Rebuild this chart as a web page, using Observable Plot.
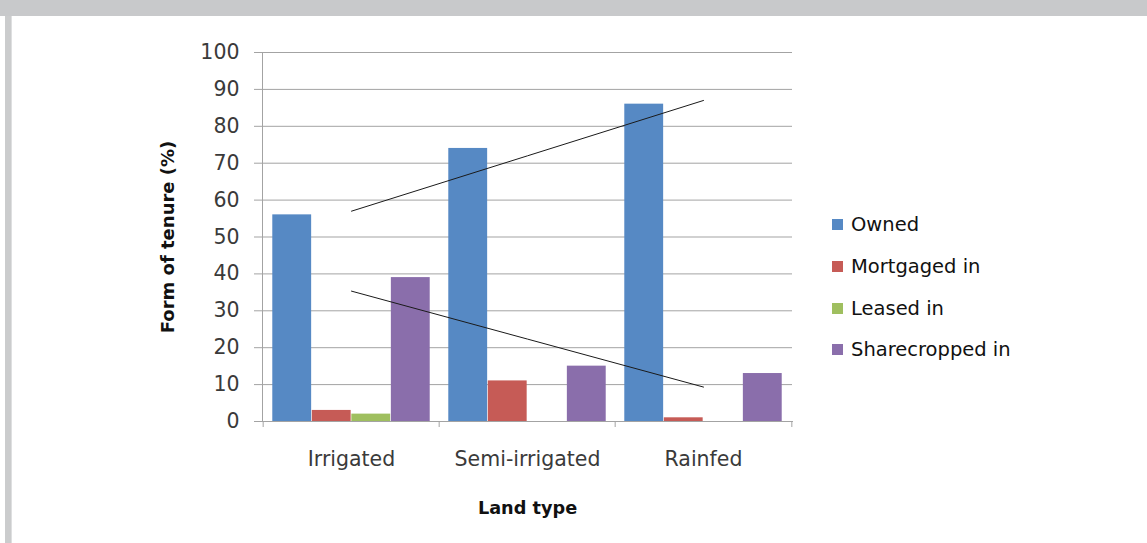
<!DOCTYPE html>
<html>
<head>
<meta charset="utf-8">
<script src="https://cdn.jsdelivr.net/npm/d3@7"></script>
<script src="https://cdn.jsdelivr.net/npm/@observablehq/plot@0.6"></script>
<style>
  html, body { margin: 0; padding: 0; background: #fff; }
  #page { position: relative; width: 1147px; height: 543px; overflow: hidden; background: #fff; font-family: "DejaVu Sans", sans-serif; }
  #topband { position: absolute; left: 0; top: 0; width: 1147px; height: 16px; background: #c8c9cb; }
  #leftband { position: absolute; left: 5px; top: 16px; width: 6px; height: 527px; background: #cbcccd; border-right: 1px solid #dedfe0; }
  #chart { position: absolute; left: 0; top: 16px; }
  #legend { position: absolute; left: 832px; top: 204px; color: #111; font-size: 19.5px; }
  .item { display: flex; align-items: center; height: 41.7px; }
  .swatch { width: 11px; height: 11px; margin-right: 8px; }
</style>
</head>
<body>
<div id="page">
  <div id="topband"></div>
  <div id="leftband"></div>
  <div id="chart"></div>
  <div id="legend"></div>
</div>
<script>
// Share of holdings by form of tenure, for each land type
const landTypes = ["Irrigated", "Semi-irrigated", "Rainfed"];
const seriesNames = ["Owned", "Mortgaged in", "Leased in", "Sharecropped in"];
const owned = [56, 74, 86];
const mortgagedIn = [3, 11, 1];
const leasedIn = [2, 0, 0];
const sharecroppedIn = [39, 15, 13];
const yTicks = [0, 10, 20, 30, 40, 50, 60, 70, 80, 90, 100];
const colors = ["#5689c4", "#c65b56", "#9fbf5f", "#8a6eab"];

const seriesValues = [owned, mortgagedIn, leasedIn, sharecroppedIn];
const rows = seriesNames.flatMap((s, i) =>
  landTypes.map((t, j) => ({landType: t, series: s, value: seriesValues[i][j]}))
);

// Least-squares linear trend over the land-type order
function linearTrend(values) {
  const n = values.length;
  const xs = d3.range(n);
  const mx = d3.mean(xs), my = d3.mean(values);
  const slope = d3.sum(xs, (x, k) => (x - mx) * (values[k] - my)) / d3.sum(xs, x => (x - mx) ** 2);
  return xs.map(x => ({landType: landTypes[x], value: my + slope * (x - mx)}));
}
const trends = [linearTrend(owned), linearTrend(sharecroppedIn)];

const width = 1147, height = 527;
const marginLeft = 262, marginRight = 355, marginTop = 36, marginBottom = 122;
const bandwidth = (width - marginLeft - marginRight) / landTypes.length;
const gapRatio = 0.47;
const barW = bandwidth / (seriesNames.length + gapRatio);
const gap = bandwidth - barW * seriesNames.length;

const gridColor = "#a3a3a3";
const textColor = "#3a3a3a";

const bars = seriesNames.map((s, i) =>
  Plot.barY(rows.filter(d => d.series === s), {
    x: "landType",
    y: "value",
    fill: colors[i],
    insetLeft: gap / 2 + i * barW,
    insetRight: bandwidth - gap / 2 - (i + 1) * barW
  })
);

const chart = Plot.plot({
  width, height, marginLeft, marginRight, marginTop, marginBottom,
  style: {fontFamily: "'DejaVu Sans', sans-serif", fontSize: "20.5px", color: textColor, background: "transparent"},
  x: {type: "band", domain: landTypes, padding: 0},
  y: {domain: [0, 100]},
  marks: [
    Plot.gridY(yTicks, {stroke: gridColor, strokeOpacity: 1}),
    ...bars,
    ...trends.map(t => Plot.lineY(t, {x: "landType", y: "value", stroke: "#1a1a1a", strokeWidth: 1})),
    Plot.axisY({ticks: yTicks, tickSize: 8, tickPadding: 15, stroke: gridColor, label: null, fill: textColor}),
    Plot.frame({anchor: "left", stroke: gridColor}),
    Plot.frame({anchor: "bottom", stroke: gridColor}),
    // category boundary ticks below the baseline
    Plot.ruleX(landTypes, {x: d => d, y1: 0, y2: 0, insetBottom: -6, dx: -bandwidth / 2, stroke: gridColor}),
    Plot.ruleX(landTypes.slice(-1), {x: d => d, y1: 0, y2: 0, insetBottom: -6, dx: bandwidth / 2, stroke: gridColor}),
    Plot.axisX({tickSize: 0, tickPadding: 30, label: null, fill: textColor}),
    Plot.text(["Land type"], {frameAnchor: "bottom", dy: 87, textAnchor: "middle", lineAnchor: "middle", fontWeight: "bold", fontSize: 17.7, fill: "#111"}),
    Plot.text(["Form of tenure (%)"], {frameAnchor: "left", dx: -94, rotate: -90, textAnchor: "middle", lineAnchor: "middle", fontWeight: "bold", fontSize: 18, fill: "#111"})
  ]
});
document.getElementById("chart").appendChild(chart);

const legend = document.getElementById("legend");
seriesNames.forEach((s, i) => {
  const item = document.createElement("div");
  item.className = "item";
  const sw = document.createElement("span");
  sw.className = "swatch";
  sw.style.background = colors[i];
  const label = document.createElement("span");
  label.textContent = s;
  item.appendChild(sw);
  item.appendChild(label);
  legend.appendChild(item);
});
</script>
</body>
</html>
